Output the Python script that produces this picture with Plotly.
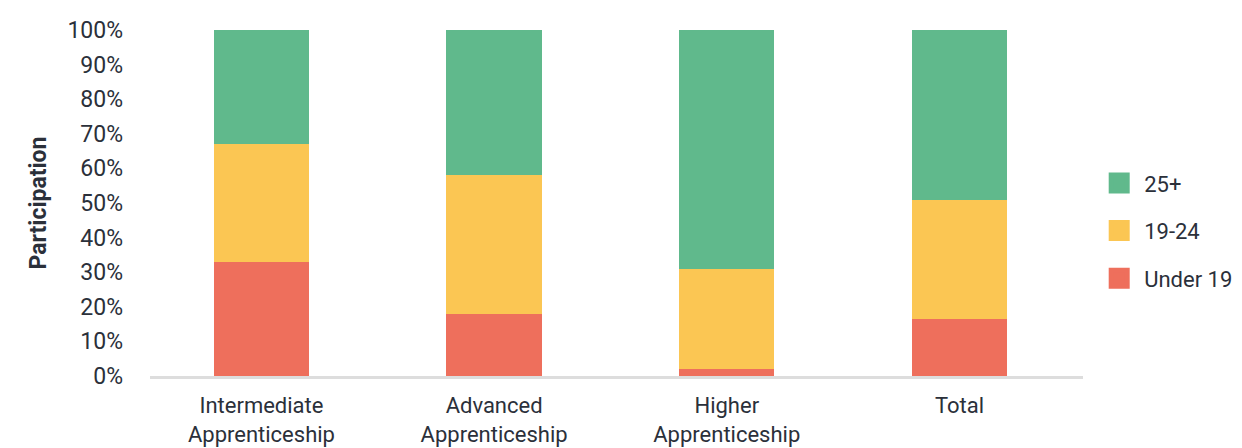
import plotly.graph_objects as go

categories = ["Intermediate<br>Apprenticeship", "Advanced<br>Apprenticeship", "Higher<br>Apprenticeship", "Total"]
under19 = [33, 18, 2, 16.5]
age19_24 = [34, 40, 29, 34.5]
age25plus = [33, 42, 69, 49]
series_names = ["Under 19", "19-24", "25+"]
colors = ["#ee6f5c", "#fbc653", "#60b98c"]
yticks = [0, 10, 20, 30, 40, 50, 60, 70, 80, 90, 100]

fig = go.Figure()
for name, vals, col in zip(series_names, [under19, age19_24, age25plus], colors):
    fig.add_trace(go.Bar(x=categories, y=vals, name=name, marker=dict(color=col, line=dict(width=0)),
                         showlegend=False))
for name, col in reversed(list(zip(series_names, colors))):
    fig.add_trace(go.Scatter(x=[None], y=[None], mode="markers", name=name, legendgroup=name,
                             marker=dict(symbol="square", size=22, color=col, line=dict(color=col, width=5))))

font_col = "#2b303a"
fig.update_layout(
    width=1242, height=448,
    barmode="stack", bargap=0.59,
    plot_bgcolor="white", paper_bgcolor="white",
    margin=dict(l=142, r=167, t=22, b=80),
    font=dict(family="Roboto", size=23, color=font_col),
    legend=dict(x=1.012, xanchor="left", y=0.42, yanchor="middle", traceorder="grouped",
                tracegroupgap=16, font=dict(size=22, color=font_col), itemwidth=40),
    xaxis=dict(range=[-0.479, 3.531], showline=True, linecolor="#dddddd", linewidth=3, ticks="",
               showgrid=False, automargin=False, tickfont=dict(size=22, color=font_col),
               ticklabelstandoff=8),
    yaxis=dict(range=[0, 100], tickvals=yticks, ticktext=[f"{v}%" for v in yticks],
               showgrid=False, zeroline=False, showline=False, ticks="", automargin=False,
               ticklabelstandoff=26, tickfont=dict(size=23, color=font_col),
               title=dict(text="<b>Participation</b>", font=dict(size=23, color=font_col), standoff=14)),
)
fig.write_html("out.html")
